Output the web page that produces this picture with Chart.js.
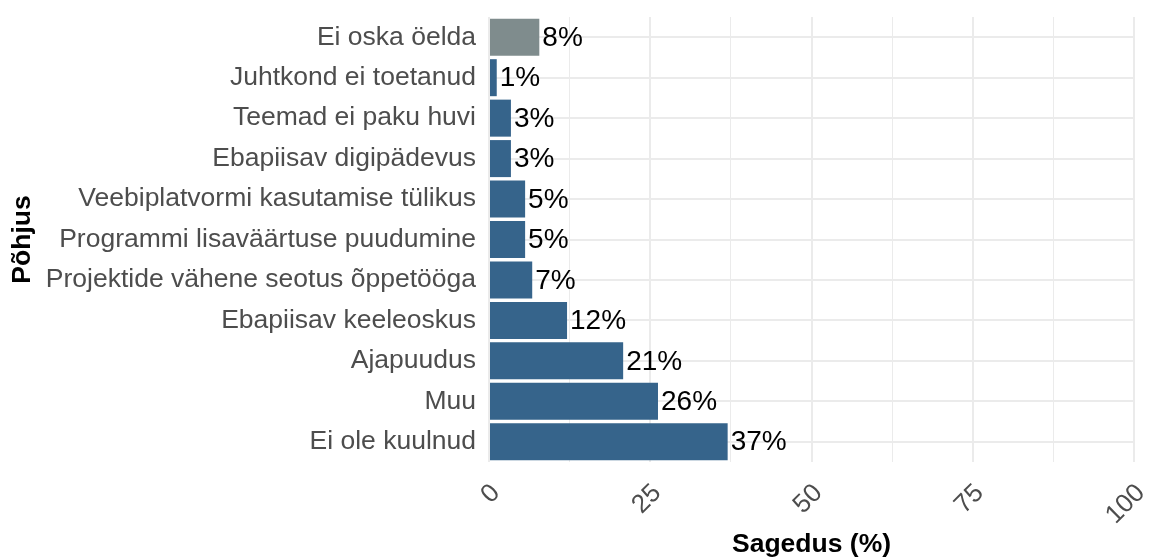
<!DOCTYPE html>
<html>
<head>
<meta charset="utf-8">
<script src="https://cdn.jsdelivr.net/npm/chart.js@4"></script>
<style>
  html, body { margin: 0; padding: 0; background: #fff; }
  #wrap { width: 1149px; height: 558px; }
</style>
</head>
<body>
<div id="wrap"><canvas id="chart" width="1149" height="558"></canvas></div>
<script>
// --- DATA ---
const categories = [
    'Ei oska öelda', 'Juhtkond ei toetanud', 'Teemad ei paku huvi', 'Ebapiisav digipädevus',
    'Veebiplatvormi kasutamise tülikus', 'Programmi lisaväärtuse puudumine',
    'Projektide vähene seotus õppetööga', 'Ebapiisav keeleoskus', 'Ajapuudus', 'Muu', 'Ei ole kuulnud'
];
const values = [7.8, 1.2, 3.4, 3.4, 5.6, 5.6, 6.7, 12.1, 20.8, 26.2, 37.0];
const valueLabels = ['8%', '1%', '3%', '3%', '5%', '5%', '7%', '12%', '21%', '26%', '37%'];
const barColors = ['#7F8C8D', '#36648B', '#36648B', '#36648B', '#36648B', '#36648B', '#36648B', '#36648B', '#36648B', '#36648B', '#36648B'];
const xTicks = [0, 25, 50, 75, 100];

const FONT = "'Liberation Sans', Arial, Helvetica, sans-serif";

// draws the "8%" etc next to each bar
const valueLabelPlugin = {
    id: 'valueLabels',
    afterDatasetsDraw(chart) {
        const ctx = chart.ctx;
        const meta = chart.getDatasetMeta(0);
        ctx.save();
        ctx.fillStyle = '#000';
        ctx.font = `28px ${FONT}`;
        ctx.textAlign = 'left';
        ctx.textBaseline = 'middle';
        meta.data.forEach((bar, i) => {
            ctx.fillText(valueLabels[i], bar.x + 3, bar.y + 1);
        });
        ctx.restore();
    }
};

new Chart(document.getElementById('chart').getContext('2d'), {
    type: 'bar',
    data: {
        labels: categories,
        datasets: [{
            data: values,
            backgroundColor: barColors,
            categoryPercentage: 1,
            barPercentage: 0.915
        }]
    },
    options: {
        indexAxis: 'y',
        responsive: false,
        animation: false,
        layout: { padding: { top: 17, right: 15, left: 0, bottom: 0 } },
        plugins: { legend: { display: false }, tooltip: { enabled: false } },
        scales: {
            x: {
                min: 0, max: 100,
                afterBuildTicks: (s) => { s.ticks = [0, 12.5, 25, 37.5, 50, 62.5, 75, 87.5, 100].map(v => ({ value: v })); },
                afterFit: (s) => { s.height = 96; s.paddingLeft = 0; s.paddingRight = 0; },
                border: { display: false },
                grid: {
                    drawTicks: false,
                    color: '#ebebeb',
                    lineWidth: (c) => (xTicks.includes(c.tick && c.tick.value) ? 2 : 1)
                },
                ticks: {
                    autoSkip: false,
                    minRotation: 45, maxRotation: 45,
                    padding: 16,
                    labelOffset: 7,
                    color: '#4d4d4d',
                    font: { family: FONT, size: 26 },
                    callback: (v) => (xTicks.includes(v) ? String(v) : '')
                },
                title: {
                    display: true,
                    text: 'Sagedus (%)',
                    color: '#000',
                    font: { family: FONT, size: 26.5, weight: 'bold', lineHeight: 1 },
                    padding: { top: 0, bottom: 0 }
                }
            },
            y: {
                offset: true,
                afterFit: (s) => { s.width = 489; s.paddingTop = 0; s.paddingBottom = 0; },
                border: { display: false },
                grid: { offset: false, drawTicks: false, color: '#ebebeb', lineWidth: 2 },
                ticks: {
                    padding: 13,
                    color: '#4d4d4d',
                    font: { family: FONT, size: 26.5 }
                },
                title: {
                    display: true,
                    text: 'Põhjus',
                    color: '#000',
                    font: { family: FONT, size: 26.5, weight: 'bold', lineHeight: 1 },
                    padding: { top: 9, bottom: 0 }
                }
            }
        }
    },
    plugins: [valueLabelPlugin]
});
</script>
</body>
</html>
